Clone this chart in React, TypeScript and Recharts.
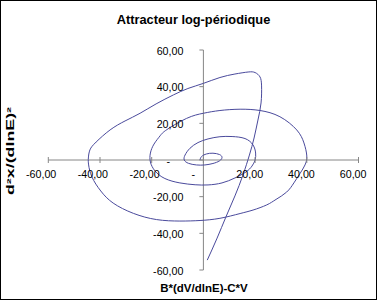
import React from 'react';
import { LineChart, Line, XAxis, YAxis, ReferenceLine } from 'recharts';

const chartTitle = 'Attracteur log-périodique';
const xAxisTitle = 'B*(dV/dlnE)-C*V';
const yAxisTitle = 'd²x/(dlnE)²';

const xTicks = [-60, -40, -20, 0, 20, 40, 60];
const yTicks = [-60, -40, -20, 0, 20, 40, 60];

const xValues = [
  -1.3, -0.7, 1.2, 3.7, 6.2, 7.2, 6.2, 3.7, 0.6, -2.7, -5.8, -7.4, -7.1, -5.2, -2.1, 1.8, 6.4, 11.1, 16.1, 19.2,
  20.2, 20.0, 18.8, 16.5, 12.2, 7.2, 1.8, -3.2, -9.1, -14.9, -18.7, -20.5, -20.5, -19.1, -16.8, -14.1, -6.5, 0.0,
  6.4, 14.2, 21.9, 29.6, 36.1, 38.9, 40.0, 39.3, 37.4, 35.0, 32.2, 28.1, 24.5, 19.2, 14.2, 6.4, -1.3, -9.1, -18.1,
  -27.1, -34.9, -39.7, -43.1, -44.4, -44.5, -43.9, -41.5, -36.1, -30.3, -24.5, -18.3, -11.6, -6.0, 0.0, 6.4, 12.2,
  17.3, 20.0, 21.9, 22.5, 22.3, 21.1, 19.6, 17.8, 15.3, 12.2, 8.7, 5.3, 1.5,
];
const yValues = [
  0.0, 1.9, 3.3, 3.7, 3.0, 1.4, -0.5, -1.9, -2.7, -2.7, -1.8, 0.0, 2.7, 6.4, 9.5, 11.5, 12.7, 12.8, 11.7, 8.2,
  3.8, 0.0, -3.3, -6.5, -9.8, -12.5, -13.6, -13.5, -12.5, -10.1, -6.0, -1.1, 3.8, 8.7, 13.1, 16.6, 22.7, 25.5,
  27.0, 27.7, 27.0, 23.6, 16.4, 9.3, 2.2, -2.7, -7.3, -12.5, -17.5, -21.5, -24.5, -27.3, -29.2, -31.8, -33.0, -33.3,
  -32.5, -29.1, -23.5, -16.9, -9.3, -2.7, 1.1, 5.5, 9.8, 16.4, 21.3, 25.5, 30.6, 35.5, 39.0, 41.8, 45.0, 46.9,
  48.0, 47.7, 45.3, 40.4, 31.1, 21.8, 12.0, 2.7, -8.2, -19.6, -31.1, -42.6, -54.6,
];

const data = xValues.map((x, i) => ({ x, y: yValues[i] }));

const W = 375;
const H = 298;
const PLOT = { top: 49, right: 17.5, bottom: 29, left: 47.3 };
const AX_H = 20;
const AX_W = 20;
const M = { top: PLOT.top, right: PLOT.right, bottom: PLOT.bottom - AX_H, left: PLOT.left - AX_W };
const CX = PLOT.left + (W - PLOT.left - PLOT.right) / 2;
const CY = PLOT.top + (H - PLOT.top - PLOT.bottom) / 2;

const AXIS = '#868686';
const FONT = "Arial, 'Liberation Sans', sans-serif";
const TICK_FS = 10.7;

const fmt = (v: number) => (v === 0 ? '-' : v.toFixed(2).replace('.', ','));

const XTick = (props: any) => {
  const { x, payload } = props;
  const v = payload.value as number;
  return (
    <g>
      <line x1={x} x2={x} y1={CY - 3} y2={CY + 3} stroke={AXIS} strokeWidth={1} />
      {v === 0 ? (
        <text x={x - 10} y={CY + 18} textAnchor="middle" fontSize={TICK_FS} fontFamily={FONT} fill="#000">-</text>
      ) : (
        <text x={x + 8} y={CY + 18} textAnchor="end" fontSize={TICK_FS} fontFamily={FONT} fill="#000">{fmt(v)}</text>
      )}
    </g>
  );
};

const YTick = (props: any) => {
  const { y, payload } = props;
  const v = payload.value as number;
  return (
    <g>
      <line x1={CX - 4} x2={CX} y1={y} y2={y} stroke={AXIS} strokeWidth={1} />
      {v === 0 ? (
        <text x={CX - 35} y={y + 4.5} textAnchor="middle" fontSize={TICK_FS} fontFamily={FONT} fill="#000">-</text>
      ) : (
        <text x={CX - 20} y={y + 4.5} textAnchor="end" fontSize={TICK_FS} fontFamily={FONT} fill="#000">{fmt(v)}</text>
      )}
    </g>
  );
};

export default function App() {
  return (
    <div
      style={{
        position: 'absolute',
        left: 0,
        top: 0,
        width: 377,
        height: 300,
        border: '1px solid #000',
        boxSizing: 'border-box',
        background: '#fff',
      }}
    >
      <div style={{ position: 'absolute', left: 0, top: 0 }}>
        <LineChart width={W} height={H} data={data} margin={M}>
          <XAxis
            type="number"
            dataKey="x"
            domain={[-60, 60]}
            ticks={xTicks}
            height={AX_H}
            axisLine={false}
            tickLine={false}
            tick={<XTick />}
            interval={0}
          />
          <YAxis
            type="number"
            domain={[-60, 60]}
            ticks={yTicks}
            width={AX_W}
            axisLine={false}
            tickLine={false}
            tick={<YTick />}
            interval={0}
          />
          <ReferenceLine y={0} stroke={AXIS} strokeWidth={1} />
          <ReferenceLine x={0} stroke={AXIS} strokeWidth={1} />
          <Line
            type="natural"
            dataKey="y"
            stroke="#4a4a9c"
            strokeWidth={1}
            dot={false}
            isAnimationActive={false}
          />
        </LineChart>
      </div>
      <svg width={W} height={H} style={{ position: 'absolute', left: 0, top: 0, pointerEvents: 'none' }}>
        <text x={192.5} y={23} textAnchor="middle" fontSize={12.8} fontWeight="bold" fontFamily={FONT} fill="#000">
          {chartTitle}
        </text>
        <text x={203} y={291} textAnchor="middle" fontSize={11.5} fontWeight="bold" fontFamily={FONT} fill="#000">
          {xAxisTitle}
        </text>
        <text
          transform="translate(12.5,150) rotate(-90)"
          textAnchor="middle"
          fontSize={10}
          fontWeight="bold"
          fontFamily={FONT}
          fill="#000"
          textLength={88}
          lengthAdjust="spacingAndGlyphs"
        >
          {yAxisTitle}
        </text>
      </svg>
    </div>
  );
}
